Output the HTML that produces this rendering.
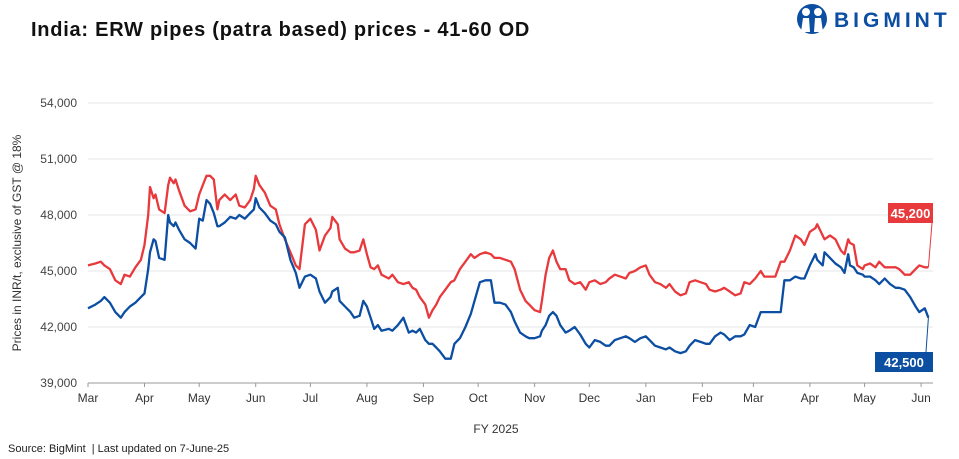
<!DOCTYPE html>
<html><head><meta charset="utf-8"><style>
body{margin:0;width:959px;height:459px;background:#fff;font-family:"Liberation Sans",sans-serif;overflow:hidden;position:relative}
#title{position:absolute;left:31px;top:19px;font-size:20px;font-weight:bold;color:#111;letter-spacing:0.75px}
#logo{position:absolute;left:794px;top:2px;width:165px;height:34px}
#src{position:absolute;left:8px;top:443px;font-size:11px;color:#222}
svg{position:absolute;left:0;top:0}
</style></head><body>
<div id="title">India: ERW pipes (patra based) prices - 41-60 OD</div>
<svg id="logo" width="165" height="34" viewBox="0 0 165 34">
<circle cx="18" cy="17" r="15" fill="#0b4ea2"/>
<circle cx="12" cy="10" r="4" fill="#fff"/><circle cx="24" cy="10" r="4" fill="#fff"/>
<path d="M7 30 L9 16 L15 16 L16 30 Z M20 30 L21 16 L27 16 L29 30 Z" fill="#fff"/>
<text x="40" y="25" font-size="21" font-weight="bold" fill="#0b4ea2" letter-spacing="4" font-family="Liberation Sans, sans-serif">BIGMINT</text>
</svg>
<svg id="chart" width="959" height="459"></svg>
<div id="src">Source: BigMint &nbsp;| Last updated on 7-June-25</div>
<script>
const days=[0,4,7,9,12,15,18,20,23,26,29,31,33,34,36,37,39,42,44,45,47,48,50,53,56,59,61,63,65,67,69,71,72,75,78,81,83,86,89,91,92,94,97,100,103,105,108,111,114,116,119,122,125,127,130,133,134,137,138,141,144,146,149,151,153,155,157,159,161,165,167,170,173,176,178,180,182,185,187,189,191,193,196,199,201,204,207,210,212,215,218,221,223,226,229,232,234,237,240,242,245,248,249,251,253,255,257,259,262,264,267,270,273,275,278,281,284,286,289,292,295,297,300,303,306,308,311,314,317,319,322,325,328,330,333,336,339,341,344,347,349,352,355,358,360,363,366,369,371,374,377,380,382,385,388,391,393,396,399,400,403,404,407,410,413,415,417,418,420,422,425,426,429,432,434,437,440,443,445,448,451,454,456,459,461];
const redSeries=[45300,45400,45500,45300,45100,44500,44300,44800,44700,45200,45600,46400,
48000,49500,48900,49100,48300,48100,49600,50000,49700,49900,49300,
48500,48200,48300,49100,49600,50100,50100,49900,48300,48800,
49100,48800,49100,48500,48400,48800,49400,50100,49600,49200,
48500,48300,47500,46700,46000,45300,45100,47500,47800,47200,
46100,46900,47300,47900,47500,46700,46200,46000,46000,46100,
46700,45900,45200,45100,45300,44800,44600,44800,44400,44300,
44400,44100,44000,43600,43200,42500,42900,43200,43600,44000,
44400,44500,45100,45500,45900,45700,45900,46000,45900,45700,
45700,45600,45500,45100,44000,43400,43200,42900,42800,43400,
44800,45700,46100,45500,45100,45100,44500,44300,44400,44000,
44400,44500,44300,44400,44600,44800,44700,44600,44900,45000,
45200,45300,44800,44400,44300,44100,44300,43900,43700,43800,
44400,44500,44400,44300,44000,43900,44000,44100,43900,43700,
43800,44400,44300,44600,45000,44700,44700,44700,45500,45500,
46100,46900,46700,46400,47100,47300,47500,46900,46700,46900,
46700,46100,45900,46700,46500,46400,45300,45100,45300,45400,
45200,45500,45200,45200,45200,45100,44800,44800,45100,45300,
45200,45200];
const blueSeries=[43000,43200,43400,43600,43300,42800,42500,42800,43100,43300,43600,43800,
45100,46000,46700,46600,45700,45600,48000,47600,47400,47600,47200,
46700,46500,46200,47800,47700,48800,48600,48100,47400,47400,
47600,47900,47800,48000,47800,48100,48300,48900,48400,48100,
47700,47500,47100,46800,45600,44900,44100,44700,44800,44600,
43900,43300,43600,43900,44100,43400,43100,42800,42500,42600,
43400,43100,42500,41900,42100,41800,41900,41800,42100,42500,
41700,41800,41700,41900,41300,41100,41100,40900,40700,40300,
40300,41100,41400,42000,42700,43400,44400,44500,44500,43300,
43300,43200,42800,42300,41700,41500,41400,41400,41500,41800,
42100,42600,42800,42600,42100,41700,41800,42000,41600,41100,
40900,41300,41200,41000,41000,41300,41400,41500,41400,41200,
41400,41500,41300,41000,40900,40800,40900,40700,40600,40700,
41000,41300,41200,41100,41100,41500,41700,41600,41300,41500,
41500,41600,42100,42000,42800,42800,42800,42800,42800,44500,
44500,44700,44600,44600,45300,45900,45600,45300,46000,45700,
45400,45200,44900,45900,45300,45200,44900,44800,44700,44700,
44500,44300,44600,44300,44100,44100,44000,43600,43100,42800,
43000,42500];
const yTicks=[39000,42000,45000,48000,51000,54000];
const monthLabels=["Mar","Apr","May","Jun","Jul","Aug","Sep","Oct","Nov","Dec","Jan","Feb","Mar","Apr","May","Jun"];
const monthDays=[0,31,61,92,122,153,184,214,245,275,306,337,365,396,426,457];

const svg=document.getElementById('chart');
const NS='http://www.w3.org/2000/svg';
const X=d=>88+d*1.823;
const Y=v=>383-(v-39000)*280/15000;
function mk(tag,attrs,parent){const e=document.createElementNS(NS,tag);for(const k in attrs)e.setAttribute(k,attrs[k]);(parent||svg).appendChild(e);return e;}
yTicks.forEach(v=>{
  const l=mk('line',{x1:88,x2:933,y1:Y(v),y2:Y(v),stroke:v===39000?'#999':'#e6e6e6','stroke-width':1});
  
  
  const t=mk('text',{x:77,y:Y(v)+4,'text-anchor':'end','font-size':12,fill:'#444'});
  t.textContent=v.toLocaleString('en-US');
  
  
});
monthLabels.forEach((m,i)=>{
  const tk=mk('line',{x1:X(monthDays[i]),x2:X(monthDays[i]),y1:383,y2:387,stroke:'#999'});
  
  
  const t=mk('text',{x:X(monthDays[i]),y:402,'text-anchor':'middle','font-size':12,fill:'#333'});
  t.textContent=m;
  
  
});
const yt=mk('text',{x:0,y:0,transform:'translate(21,243) rotate(-90)','text-anchor':'middle','font-size':12,fill:'#333'});
yt.textContent='Prices in INR/t, exclusive of GST @ 18%';


const xt=mk('text',{x:496,y:433,'text-anchor':'middle','font-size':12,fill:'#333'});
xt.textContent='FY 2025';


function line(vals,col,name){
  const d=vals.map((v,i)=>(i?'L':'M')+X(days[i]).toFixed(1)+' '+Y(v).toFixed(1)).join(' ');
  const p=mk('path',{d:d,fill:'none',stroke:col,'stroke-width':2.3,'stroke-linejoin':'round'});
  
  
}
line(redSeries,'#e8393c','red-series-line');
line(blueSeries,'#0b4ea2','blue-series-line');
function label(val,col,bx,by,bw,name,lx){
  const last=X(days[days.length-1]);
  const c=mk('line',{x1:last,y1:Y(val),x2:lx,y2:by<Y(val)?by+20:by,stroke:col,'stroke-width':1});
  
  
  const r=mk('rect',{x:bx,y:by,width:bw,height:20,fill:col});
  
  
  const t=mk('text',{x:bx+bw/2,y:by+15,'text-anchor':'middle','font-size':13,'font-weight':'bold',fill:'#fff'});
  t.textContent=val.toLocaleString('en-US');
  
  
}
label(redSeries[redSeries.length-1],'#e8393c',888,203,45,'red-end-label',932);
label(blueSeries[blueSeries.length-1],'#0b4ea2',875,352,58,'blue-end-label',926);
</script>
</body></html>
